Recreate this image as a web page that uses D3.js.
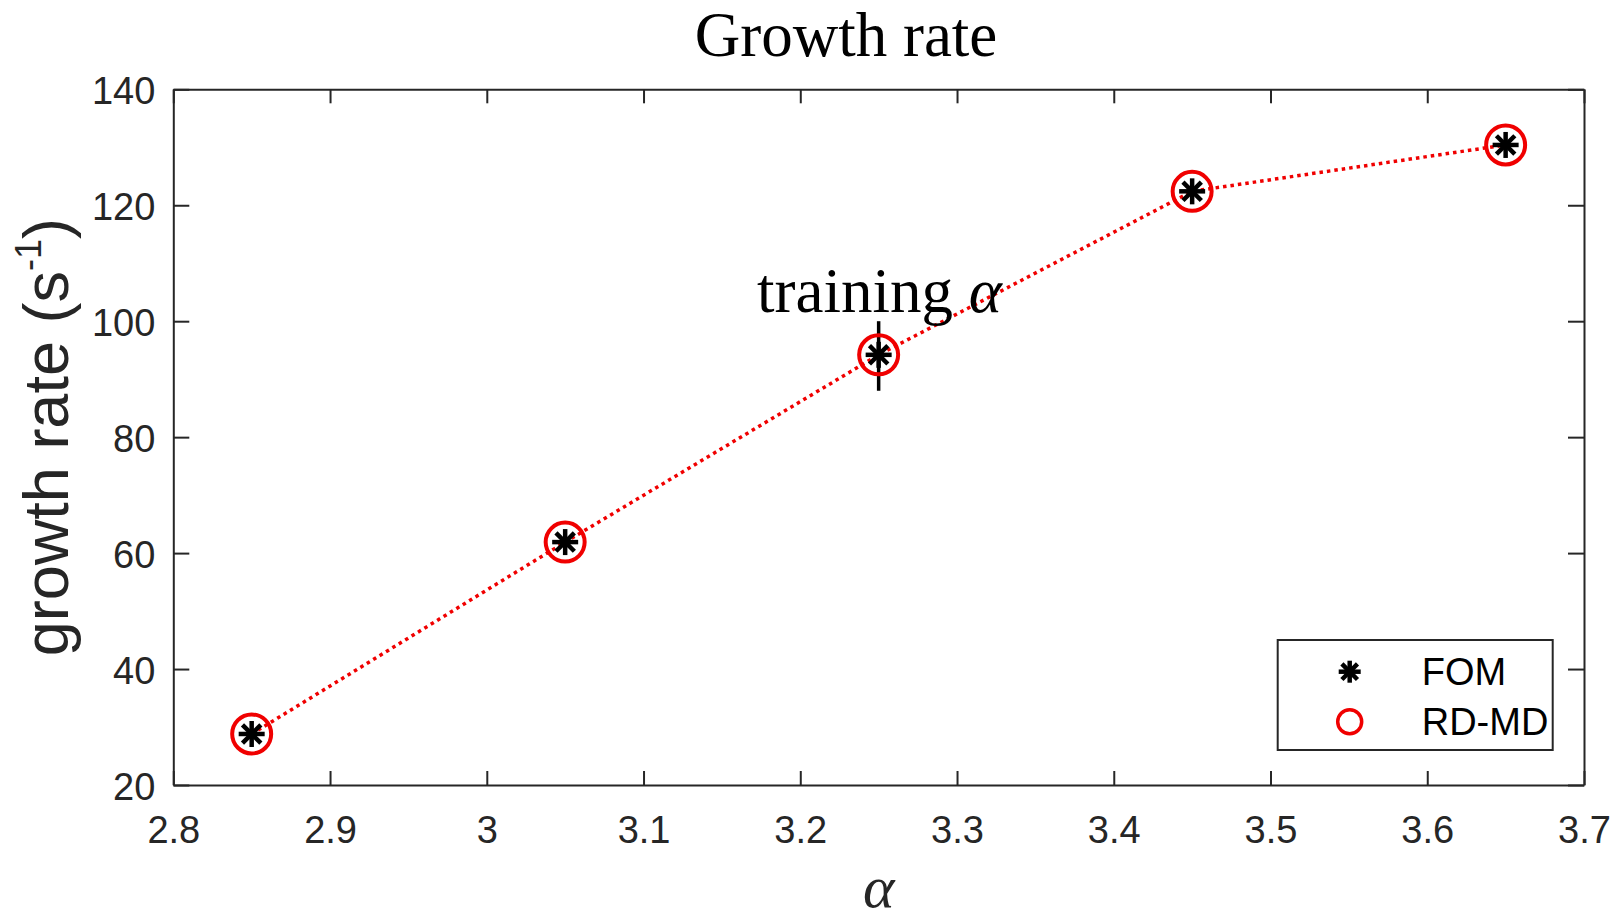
<!DOCTYPE html>
<html>
<head>
<meta charset="utf-8">
<script src="https://cdn.jsdelivr.net/npm/d3@7"></script>
<style>
  body { margin: 0; background: #fff; }
  .axis path, .axis line { stroke: #262626; stroke-width: 2; }
  .axis text { fill: #262626; font-family: "Liberation Sans", Arial, sans-serif; font-size: 38px; }
</style>
</head>
<body>
<svg id="chart" width="1614" height="922"></svg>
<script>
// alpha values and growth rates
var alphas = [2.85, 3.05, 3.25, 3.45, 3.65];
var fomRates = [28.8, 61.9, 94.2, 122.4, 130.4];
var rdmdRates = [28.8, 61.9, 94.2, 122.4, 130.4];
var xTicks = [2.8, 2.9, 3.0, 3.1, 3.2, 3.3, 3.4, 3.5, 3.6, 3.7];
var yTicks = [20, 40, 60, 80, 100, 120, 140];
var trainingAlpha = 3.25;
var trainingSpan = [88, 100];
var legendLabels = ["FOM", "RD-MD"];

var svg = d3.select("#chart"),
    margin = {top: 89.3, right: 30, bottom: 137, left: 173.3},
    width = svg.attr("width") - margin.left - margin.right,
    height = svg.attr("height") - margin.top - margin.bottom,
    g = svg.append("g").attr("transform", "translate(" + margin.left + "," + margin.top + ")");

var x = d3.scaleLinear().domain([2.8, 3.7]).range([0, width]),
    y = d3.scaleLinear().domain([20, 140]).range([height, 0]);

var red = "#f00000", ink = "#262626";

var points = alphas.map(function(a, i) {
  return {a: a, fom: fomRates[i], rdmd: rdmdRates[i]};
});

// box with inward ticks on all four sides (matlab style)
g.append("g")
    .attr("class", "axis")
    .attr("transform", "translate(0," + height + ")")
  .call(d3.axisBottom(x).tickValues(xTicks).tickSizeInner(-14).tickSizeOuter(0).tickPadding(31)
    .tickFormat(d3.format("")));

g.append("g")
    .attr("class", "axis")
  .call(d3.axisTop(x).tickValues(xTicks).tickSizeInner(-14).tickSizeOuter(0).tickFormat(""));

g.append("g")
    .attr("class", "axis")
  .call(d3.axisLeft(y).tickValues(yTicks).tickSizeInner(-16).tickSizeOuter(0).tickPadding(18))
  .selectAll(".tick text")
    .attr("dy", "0.38em");

g.append("g")
    .attr("class", "axis")
    .attr("transform", "translate(" + width + ",0)")
  .call(d3.axisRight(y).tickValues(yTicks).tickSizeInner(-16).tickSizeOuter(0).tickFormat(""));

// dotted red line through the reduced model points
var line = d3.line()
    .x(function(d) { return x(d.a); })
    .y(function(d) { return y(d.rdmd); });

g.append("path")
    .datum(points)
    .attr("d", line)
    .attr("fill", "none")
    .attr("stroke", red)
    .attr("stroke-width", 3.5)
    .attr("stroke-dasharray", "3.5,4");

// training alpha marker
g.append("line")
    .attr("x1", x(trainingAlpha))
    .attr("x2", x(trainingAlpha))
    .attr("y1", y(trainingSpan[0]))
    .attr("y2", y(trainingSpan[1]))
    .attr("stroke", "#000")
    .attr("stroke-width", 3.5);

function asterisk(sel, r, w) {
  [0, 45, 90, 135].forEach(function(ang) {
    sel.append("line")
        .attr("x1", 0).attr("y1", -r)
        .attr("x2", 0).attr("y2", r)
        .attr("transform", "rotate(" + ang + ")")
        .attr("stroke", "#000")
        .attr("stroke-width", w);
  });
}

g.selectAll(".rdmd")
    .data(points)
  .enter().append("circle")
    .attr("class", "rdmd")
    .attr("cx", function(d) { return x(d.a); })
    .attr("cy", function(d) { return y(d.rdmd); })
    .attr("r", 19.5)
    .attr("fill", "none")
    .attr("stroke", red)
    .attr("stroke-width", 4);

g.selectAll(".fom")
    .data(points)
  .enter().append("g")
    .attr("class", "fom")
    .attr("transform", function(d) { return "translate(" + x(d.a) + "," + y(d.fom) + ")"; })
    .each(function() { asterisk(d3.select(this), 13, 4.5); });

// titles and labels
svg.append("text")
    .attr("x", 846)
    .attr("y", 56)
    .attr("text-anchor", "middle")
    .style("font-family", "'Liberation Serif', 'Times New Roman', serif")
    .style("font-size", "63px")
    .attr("fill", "#000")
    .text("Growth rate");

var train = svg.append("text")
    .attr("x", 757)
    .attr("y", 312)
    .style("font-family", "'Liberation Serif', 'Times New Roman', serif")
    .style("font-size", "63px")
    .attr("fill", "#000");
train.append("tspan").text("training ");
train.append("tspan").style("font-style", "italic").text("α");

svg.append("text")
    .attr("x", margin.left + width / 2)
    .attr("y", 907)
    .attr("text-anchor", "middle")
    .style("font-family", "'Liberation Serif', 'Times New Roman', serif")
    .style("font-size", "60px")
    .style("font-style", "italic")
    .attr("fill", "#262626")
    .text("α");

var ylab = svg.append("text")
    .attr("transform", "translate(68," + (margin.top + height / 2) + ") rotate(-90)")
    .attr("text-anchor", "middle")
    .style("font-family", "'Liberation Sans', Arial, sans-serif")
    .style("font-size", "63px")
    .attr("fill", "#262626");
ylab.append("tspan").text("growth rate (s");
ylab.append("tspan").style("font-size", "36px").attr("dy", "-0.75em").text("-1");
ylab.append("tspan").attr("dy", "0.43em").text(")");

// legend
var legend = svg.append("g").attr("transform", "translate(1277.7,640)");
legend.append("rect")
    .attr("width", 275)
    .attr("height", 110)
    .attr("fill", "#fff")
    .attr("stroke", ink)
    .attr("stroke-width", 2);

var rows = legend.selectAll(".row")
    .data(legendLabels)
  .enter().append("g")
    .attr("class", "row")
    .attr("transform", function(d, i) { return "translate(0," + (31.7 + i * 50) + ")"; });

rows.append("text")
    .attr("x", 144)
    .attr("dy", "0.36em")
    .style("font-family", "'Liberation Sans', Arial, sans-serif")
    .style("font-size", "38px")
    .attr("fill", "#000")
    .text(function(d) { return d; });

rows.each(function(d, i) {
  var m = d3.select(this).append("g").attr("transform", "translate(72,0)");
  if (i == 0) asterisk(m, 11, 4.5);
  else m.append("circle").attr("r", 12).attr("fill", "none").attr("stroke", red).attr("stroke-width", 3.5);
});
</script>
</body>
</html>
